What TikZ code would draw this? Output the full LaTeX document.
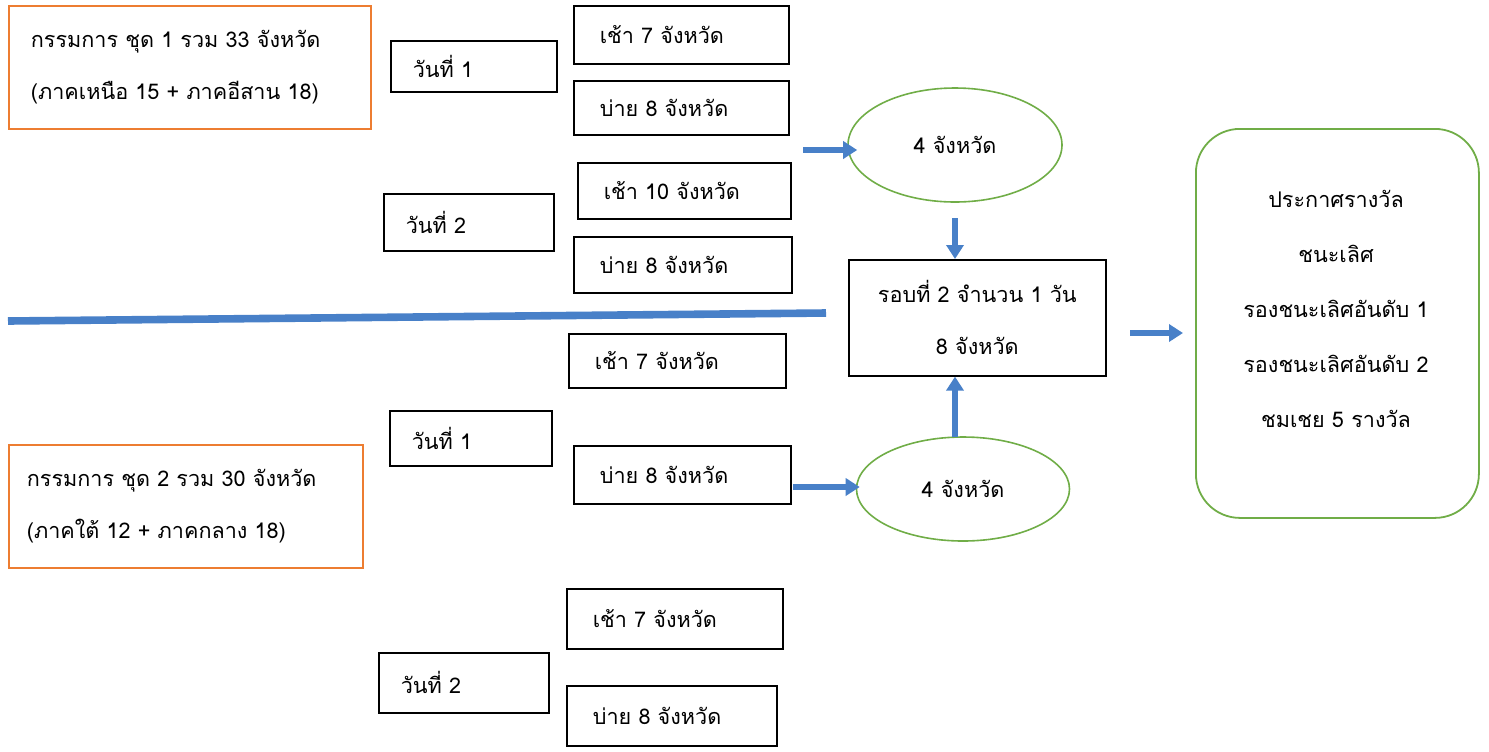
\documentclass[tikz,border=0pt]{standalone}
\usepackage{fontspec}
\newfontfamily\thai[Script=Thai]{Loma}
\usetikzlibrary{arrows.meta,shapes.geometric}
\definecolor{orng}{RGB}{237,125,49}
\definecolor{grn}{RGB}{112,173,71}
\definecolor{blu}{RGB}{72,128,200}
\begin{document}
\begin{tikzpicture}[x=0.5pt,y=-0.5pt,
  font=\thai\fontsize{10.8}{26}\selectfont,
  bx/.style={draw=black,line width=0.8pt,inner xsep=11pt,inner ysep=2pt,align=left,anchor=north west},
  obx/.style={bx,draw=orng,line width=0.9pt},
  ell/.style={draw=grn,line width=0.8pt,ellipse,inner sep=0pt},
  arr/.style={draw=blu,line width=2.6pt,-{Triangle[length=7pt,width=8.5pt]}},
  divider/.style={draw=blu,line width=3.8pt}]
\path[use as bounding box] (0,0) rectangle (1489,751);
% top group
\node[obx,minimum width=181pt,minimum height=61.5pt,text width=159pt] (o1) at (8,5)
  {กรรมการ ชุด 1 รวม 33 จังหวัด\\(ภาคเหนือ 15 + ภาคอีสาน 18)};
\node[bx,minimum width=83pt,minimum height=25.5pt,text width=61pt] (d1) at (390,40) {\raisebox{-3pt}{วันที่ 1}};
\node[bx,minimum width=107.5pt,minimum height=29pt,text width=81.5pt,inner xsep=13pt] (m1) at (573,5) {\raisebox{-2pt}{เช้า 7 จังหวัด}};
\node[bx,minimum width=107.5pt,minimum height=27pt,text width=81.5pt,inner xsep=13pt] (a1) at (573,80) {บ่าย 8 จังหวัด};
\node[bx,minimum width=85pt,minimum height=28.5pt,text width=63pt] (d2) at (383,193) {วันที่ 2};
\node[bx,minimum width=106.5pt,minimum height=28pt,text width=80.5pt,inner xsep=13pt] (m2) at (577,162) {เช้า 10 จังหวัด};
\node[bx,minimum width=109pt,minimum height=28pt,text width=83pt,inner xsep=13pt] (a2) at (573,236) {บ่าย 8 จังหวัด};
% middle
\node[ell,minimum width=107pt,minimum height=57pt] (e1) at (955,145) {4 จังหวัด};
\node[bx,minimum width=128.5pt,minimum height=58pt,text width=110pt,inner xsep=9.25pt,align=center] (r2) at (848,259)
  {รอบที่ 2 จำนวน 1 วัน\\8 จังหวัด};
\coordinate (dl) at (8,321);
\coordinate (dr) at (826,313);
\draw[divider] (dl) -- (dr);
% bottom group
\node[bx,minimum width=108.5pt,minimum height=27pt,text width=82.5pt,inner xsep=13pt] (m3) at (568,333) {\raisebox{-2pt}{เช้า 7 จังหวัด}};
\node[bx,minimum width=81pt,minimum height=27.5pt,text width=59pt] (d3) at (389,410) {วันที่ 1};
\node[bx,minimum width=108.5pt,minimum height=29pt,text width=82.5pt,inner xsep=13pt] (a3) at (573,445) {บ่าย 8 จังหวัด};
\node[obx,minimum width=177pt,minimum height=61.5pt,text width=159pt,inner xsep=9pt] (o2) at (8,444)
  {กรรมการ ชุด 2 รวม 30 จังหวัด\\(ภาคใต้ 12 + ภาคกลาง 18)};
\node[ell,minimum width=106.5pt,minimum height=52pt] (e2) at (963,489) {4 จังหวัด};
\node[bx,minimum width=108pt,minimum height=30pt,text width=82pt,inner xsep=13pt] (m4) at (566,588) {\raisebox{-2pt}{เช้า 7 จังหวัด}};
\node[bx,minimum width=85pt,minimum height=30pt,text width=63pt] (d4) at (378,652) {วันที่ 2};
\node[bx,minimum width=105pt,minimum height=30pt,text width=79pt,inner xsep=13pt] (a4) at (566,685) {\raisebox{-2pt}{บ่าย 8 จังหวัด}};
% result box
\node[draw=grn,line width=0.9pt,rounded corners=22pt,minimum width=141.5pt,minimum height=194.5pt,anchor=north west] (g) at (1195,128) {};
\node[align=center,font=\thai\fontsize{10.8}{27.5}\selectfont] (gt) at (1336,309)
  {ประกาศรางวัล\\ชนะเลิศ\\รองชนะเลิศอันดับ 1\\รองชนะเลิศอันดับ 2\\ชมเชย 5 รางวัล};
% arrows
\coordinate (s1) at (803,150);
\coordinate (s2) at (955,218);
\coordinate (s3) at (793,487);
\coordinate (s4) at (955,437);
\coordinate (s5) at (1130,333);
\draw[arr] (s1) -- ([xshift=5pt]s1 -| e1.west);
\draw[arr] (s2) -- (s2 |- r2.north);
\draw[arr] (s3) -- ([xshift=2pt]s3 -| e2.west);
\draw[arr] (s4) -- (s4 |- r2.south);
\draw[arr] (s5) -- ([xshift=-6pt]s5 -| g.west);
\end{tikzpicture}
\end{document}
